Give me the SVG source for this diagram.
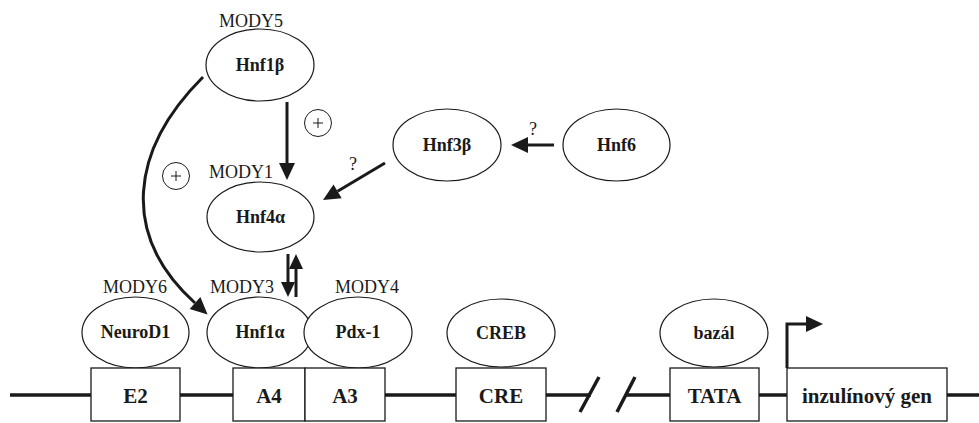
<svg xmlns="http://www.w3.org/2000/svg" width="979" height="423" viewBox="0 0 979 423">
<defs>
<style>
.n{fill:#fff;stroke:#1a1a1a;stroke-width:1.2}
.b{fill:#fff;stroke:#1a1a1a;stroke-width:1.3}
.t{font-family:"Liberation Serif","Times New Roman",serif;font-weight:bold;font-size:18px;fill:#1a1a1a;text-anchor:middle}
.bt{font-family:"Liberation Serif","Times New Roman",serif;font-weight:bold;font-size:21px;fill:#1a1a1a;text-anchor:middle}
.m{font-family:"Liberation Serif","Times New Roman",serif;font-size:18px;fill:#1a1a1a;text-anchor:middle}
.a{fill:none;stroke:#1a1a1a;stroke-width:3}
.d{fill:none;stroke:#1a1a1a;stroke-width:3.5}
.c{fill:#fff;stroke:#1a1a1a;stroke-width:1}
.p{stroke:#1a1a1a;stroke-width:1}
</style>
<marker id="ah" markerUnits="userSpaceOnUse" markerWidth="18" markerHeight="16" refX="0" refY="8" orient="auto" overflow="visible">
<path d="M0,0 L17,8 L0,16 z" fill="#1a1a1a"/>
</marker>
<marker id="ahs" markerUnits="userSpaceOnUse" markerWidth="16" markerHeight="14" refX="0" refY="7" orient="auto" overflow="visible">
<path d="M0,0 L15,7 L0,14 z" fill="#1a1a1a"/>
</marker>
</defs>
<rect width="979" height="423" fill="#fff"/>

<g id="dna">
<path class="d" d="M10,395 H91 M180,395 H233 M385,395 H456 M546,395 H591 M626,395 H670 M759,395 H787 M947,395 H979"/>
<path class="d" d="M580,412 L599,377 M617,412 L635,377"/>
</g>

<g id="connectors">
<path class="a" d="M287,102 V163" marker-end="url(#ah)"/>
<path class="a" d="M554,145 H528" marker-end="url(#ah)"/>
<path class="a" d="M385,163 L337.6,191.3" marker-end="url(#ah)"/>
<path class="a" d="M203,77 C130,150 120,235 195,303" marker-end="url(#ah)"/>
<path class="a" d="M288,254 V282" marker-end="url(#ahs)"/>
<path class="a" d="M296,297 V269" marker-end="url(#ahs)"/>
<path class="a" d="M787,368 V324 H806" marker-end="url(#ah)"/>
<text class="m" x="353" y="170">?</text>
<text class="m" x="533" y="135">?</text>
<g id="plus1"><circle class="c" cx="318" cy="123" r="13.5"/><path class="p" d="M313,123 H323 M318,118 V128"/></g>
<g id="plus2"><circle class="c" cx="176" cy="176" r="13.5"/><path class="p" d="M171,176 H181 M176,171 V181"/></g>
</g>

<g id="hnf1b"><text class="m" x="251" y="27">MODY5</text><ellipse class="n" cx="260" cy="65" rx="54" ry="36"/><text class="t" x="260" y="71">Hnf1β</text></g>
<g id="hnf4a"><text class="m" x="241" y="178">MODY1</text><ellipse class="n" cx="260.5" cy="217" rx="53.5" ry="35"/><text class="t" x="260.5" y="223">Hnf4α</text></g>
<g id="hnf3b"><ellipse class="n" cx="447" cy="145" rx="54" ry="36"/><text class="t" x="447" y="151">Hnf3β</text></g>
<g id="hnf6"><ellipse class="n" cx="616.5" cy="145" rx="53.5" ry="36"/><text class="t" x="616.5" y="151">Hnf6</text></g>

<g id="neurod1"><text class="m" x="135" y="293">MODY6</text><ellipse class="n" cx="135.5" cy="332.5" rx="53.5" ry="35.5"/><text class="t" x="135.5" y="338">NeuroD1</text></g>
<g id="hnf1a"><text class="m" x="242" y="293">MODY3</text><ellipse class="n" cx="259.5" cy="332.5" rx="52.5" ry="35.5"/><text class="t" x="260" y="338">Hnf1α</text></g>
<g id="pdx1"><text class="m" x="367" y="293">MODY4</text><ellipse class="n" cx="358" cy="332.5" rx="54" ry="35.5"/><text class="t" x="358" y="338">Pdx-1</text></g>
<g id="creb"><ellipse class="n" cx="501" cy="333" rx="54" ry="34"/><text class="t" x="501" y="339">CREB</text></g>
<g id="bazal"><ellipse class="n" cx="714" cy="333" rx="54" ry="34"/><text class="t" x="714" y="339">bazál</text></g>

<g id="e2"><rect class="b" x="91" y="368" width="89" height="53"/><text class="bt" x="135.5" y="403">E2</text></g>
<g id="a4"><rect class="b" x="233" y="368" width="72" height="53"/><text class="bt" x="269" y="403">A4</text></g>
<g id="a3"><rect class="b" x="305" y="368" width="80" height="53"/><text class="bt" x="345" y="403">A3</text></g>
<g id="cre"><rect class="b" x="456" y="368" width="90" height="53"/><text class="bt" x="501" y="403">CRE</text></g>
<g id="tata"><rect class="b" x="670" y="368" width="89" height="53"/><text class="bt" x="714.5" y="403">TATA</text></g>
<g id="gen"><rect class="b" x="787" y="368" width="160" height="53"/><text class="bt" x="867" y="403">inzulínový gen</text></g>
</svg>
